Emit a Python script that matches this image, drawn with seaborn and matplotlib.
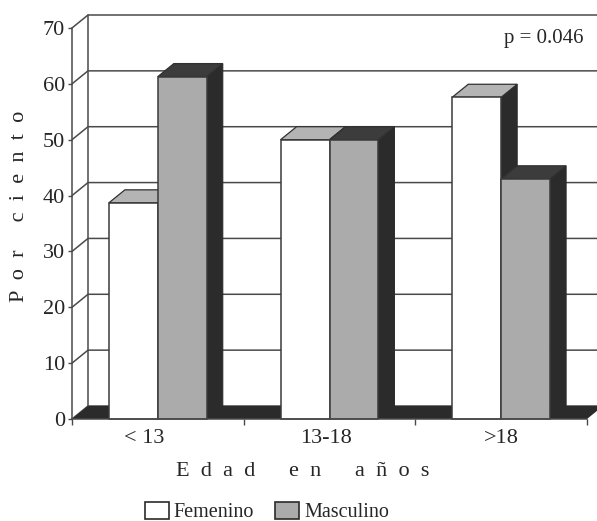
import pandas as pd
import matplotlib
matplotlib.use('Agg')
import matplotlib.pyplot as plt
from matplotlib.patches import Patch
from matplotlib.transforms import ScaledTranslation
import seaborn as sns

# values
grupos = ['< 13', '13-18', '>18']
femenino = [38.7, 50, 57.6]
masculino = [61.3, 50, 43]
y_ticks = [0, 10, 20, 30, 40, 50, 60, 70]

sns.set_style('white')
plt.rcParams['font.family'] = ['Liberation Serif', 'DejaVu Serif']

df = pd.DataFrame({
    'Edad': grupos * 2,
    'Sexo': ['Femenino'] * 3 + ['Masculino'] * 3,
    'Por ciento': femenino + masculino,
})

W, H = 597, 521
fig = plt.figure(figsize=(W / 100, H / 100), dpi=100)
# front plane of the fake 3d box, in pixels of the reference
ax = fig.add_axes([72 / W, 1 - 419 / H, 515 / W, 391 / H])

colores = {'Femenino': '#ffffff', 'Masculino': '#ababab'}
sns.barplot(ax=ax, data=df, x='Edad', y='Por ciento', hue='Sexo', order=grupos,
            palette=colores, saturation=1, width=0.57, gap=0, legend=False,
            edgecolor='#3a3a3a', linewidth=1.1)
barras = list(ax.patches)
ax.set_xlim(-0.5, 2.5)
ax.set_ylim(0, 70)

# depth of the box in data units
dx = 16 / (515 / 3)
dy = 13 / (391 / 70)
x0, x1 = ax.get_xlim()
linea = '#4a4a4a'
oscuro = '#2b2b2b'

# back wall and side wall
for v in y_ticks:
    ax.plot([x0, x0 + dx, x1 + dx], [v, v + dy, v + dy], color=linea, lw=1.1,
            clip_on=False, zorder=1)
ax.plot([x0 + dx, x0 + dx], [dy, 70 + dy], color=linea, lw=1.1, clip_on=False, zorder=1)

# floor
ax.fill([x0, x1, x1 + dx, x0 + dx], [0, 0, dy, dy], color=oscuro, lw=0,
        clip_on=False, zorder=2)

# top and side faces come from the bars seaborn has drawn
n = len(grupos)
for i, bar in enumerate(barras):
    x, w, h = bar.get_x(), bar.get_width(), bar.get_height()
    es_fem = i < n
    bar.set_zorder(4 if es_fem else 5)
    bar.set_clip_on(False)
    z = 3 if es_fem else 3.5
    ax.fill([x + w, x + w + dx, x + w + dx, x + w], [0, dy, h + dy, h],
            facecolor=oscuro, edgecolor=oscuro, lw=0.8, clip_on=False, zorder=z)
    ax.fill([x, x + w, x + w + dx, x + dx], [h, h, h + dy, h + dy],
            facecolor='#b4b4b4' if es_fem else '#3c3c3c', edgecolor='#303030', lw=0.9,
            clip_on=False, zorder=z)

sns.despine(ax=ax, top=True, right=True)
for s in ['left', 'bottom']:
    ax.spines[s].set_color(linea)
    ax.spines[s].set_linewidth(1.1)
    ax.spines[s].set_zorder(6)

ax.set_yticks(y_ticks)
ax.set_xticks(range(n))
ax.set_xticklabels(grupos)
ax.set_xticks([-0.5, 0.5, 1.5, 2.5], minor=True)
ax.tick_params(axis='x', which='major', length=0, labelsize=16, pad=7)
ax.tick_params(axis='x', which='minor', length=4, width=1, color=linea, bottom=True)
ax.tick_params(axis='y', length=3, width=1, color=linea, left=True, labelsize=16, pad=2)

# the first two group labels sit a bit left of their group in the reference
for lbl, corr in zip(ax.get_xticklabels(), [-14, -4, 0]):
    lbl.set_transform(lbl.get_transform() + ScaledTranslation(corr / 100, 0, fig.dpi_scale_trans))

ax.set_xlabel('E  d  a  d      e  n      a  ñ  o  s', fontsize=16)
ax.xaxis.set_label_coords((303 - 72) / 515, -(462 - 419) / 391)
ax.set_ylabel('P  o  r     c  i  e  n  t  o', fontsize=16)
ax.yaxis.set_label_coords((29 - 72) / 515, (419 - 206) / 391)

ax.text(1 - (587 - 584) / 515, 1 - (38 - 28) / 391, 'p = 0.046', transform=ax.transAxes,
        ha='right', va='center', fontsize=15)

handles = [Patch(facecolor=colores[k], edgecolor='#2a2a2a', lw=1.2, label=k) for k in colores]
fig.legend(handles=handles, loc='center', bbox_to_anchor=(267 / W, 1 - 512 / H), ncol=2,
           frameon=False, fontsize=14.5, handlelength=1.2, handleheight=0.9,
           handletextpad=0.25, columnspacing=1.05)

plt.savefig('out.png', dpi=100)
